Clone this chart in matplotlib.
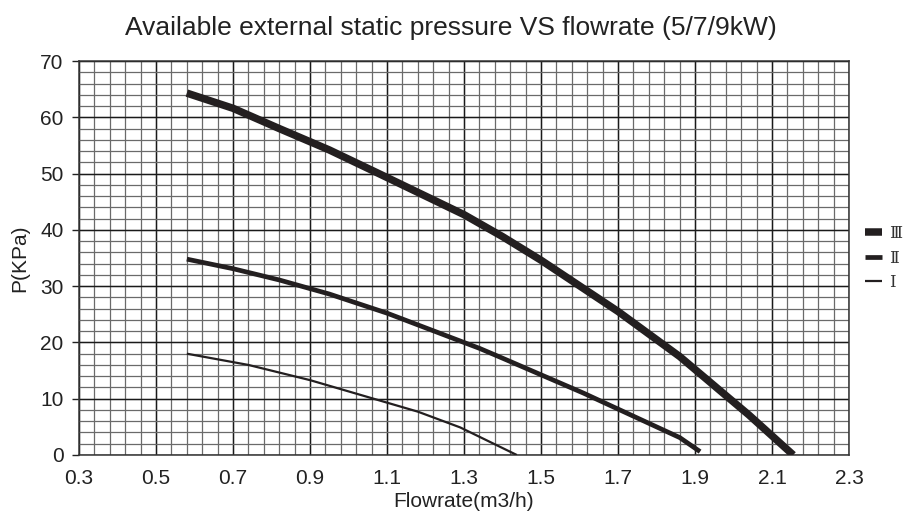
import matplotlib
matplotlib.use("Agg")
import matplotlib.pyplot as plt
import numpy as np

plt.rcParams['font.family'] = ['Liberation Sans', 'DejaVu Sans']

# curves (flowrate m3/h, pressure kPa)
flow_3 = [0.58, 0.70, 0.82, 0.95, 1.10, 1.30, 1.40, 1.50, 1.70, 1.86, 2.04, 2.155]
pres_3 = [64.3, 61.6, 58.0, 54.2, 49.3, 42.7, 38.8, 34.6, 25.5, 17.5, 7.1, 0.0]

flow_2 = [0.58, 0.70, 0.82, 0.95, 1.10, 1.34, 1.40, 1.61, 1.86, 1.913]
pres_2 = [34.8, 33.1, 31.1, 28.6, 25.2, 18.95, 17.2, 11.0, 3.1, 0.6]

flow_1 = [0.58, 0.74, 0.90, 1.06, 1.18, 1.29, 1.437]
pres_1 = [18.0, 16.0, 13.3, 10.1, 7.7, 4.9, 0.0]

labels = ["\u2162", "\u2161", "\u2160"]
x_ticks = [0.3, 0.5, 0.7, 0.9, 1.1, 1.3, 1.5, 1.7, 1.9, 2.1, 2.3]
y_ticks = [0, 10, 20, 30, 40, 50, 60, 70]

line_col = "#231f20"
text_col = "#222222"

fig = plt.figure(figsize=(9.06, 5.11), dpi=100)
ax = fig.add_axes([0.0872, 0.1096, 0.85, 0.771])

# grid paper
for xv in np.arange(0.3, 2.3001, 0.04):
    ax.axvline(xv, color="#6a6a6a", lw=0.9, zorder=1)
for xv in x_ticks:
    ax.axvline(xv, color="#1a1a1a", lw=1.0, zorder=1)
for yv in np.arange(0, 70.001, 2):
    ax.axhline(yv, color="#6a6a6a", lw=0.9, zorder=1)
for yv in y_ticks:
    ax.axhline(yv, color="#1a1a1a", lw=1.0, zorder=1)

l1, = ax.plot(flow_1, pres_1, color=line_col, lw=1.6, solid_capstyle="butt", zorder=3)
l2, = ax.plot(flow_2, pres_2, color=line_col, lw=3.4, solid_capstyle="butt", zorder=3)
l3, = ax.plot(flow_3, pres_3, color=line_col, lw=5.4, solid_capstyle="butt", zorder=3)

ax.set_xlim(0.3, 2.3)
ax.set_ylim(0, 70)
ax.set_xticks(x_ticks)
ax.set_xticklabels([f"{v:.1f}" for v in x_ticks])
ax.set_yticks(y_ticks)
ax.tick_params(axis="x", length=0, pad=10, labelsize=15, colors=text_col)
ax.tick_params(axis="y", length=5, width=1, pad=6, labelsize=15, colors=text_col)
for s in ax.spines.values():
    s.set_color("#333333")
    s.set_linewidth(1.1)

ax.set_xlabel("Flowrate(m3/h)", fontsize=15, color=text_col, labelpad=3)
ax.set_ylabel("P(KPa)", fontsize=15, color=text_col, labelpad=8)
fig.text(0.498, 0.945, "Available external static pressure VS flowrate (5/7/9kW)",
         fontsize=19, color=text_col, ha="center", va="center")

leg = ax.legend([l3, l2, l1], labels, loc="center left", bbox_to_anchor=(1.012, 0.5),
                frameon=False, handlelength=1.0, handletextpad=0.45, labelspacing=0.45,
                borderaxespad=0, prop={"family": ["DejaVu Serif"], "size": 12})
for t in leg.get_texts():
    t.set_color("#333333")

fig.savefig("out.png", dpi=100)
